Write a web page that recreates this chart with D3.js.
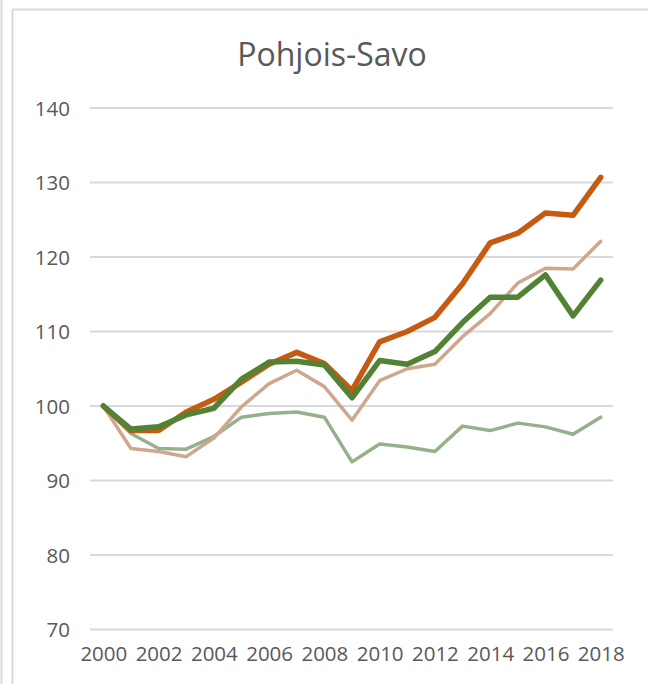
<!DOCTYPE html>
<html>
<head>
<meta charset="utf-8">
<script src="https://cdn.jsdelivr.net/npm/d3@7"></script>
<style>
  html, body { margin: 0; padding: 0; background: #ffffff; overflow: hidden; }
  svg { display: block; }
</style>
</head>
<body>
<svg id="chart" width="648" height="684"></svg>
<script>
const years = ["2000","2001","2002","2003","2004","2005","2006","2007","2008","2009",
               "2010","2011","2012","2013","2014","2015","2016","2017","2018"];
const yTicks = [70, 80, 90, 100, 110, 120, 130, 140];
const title = "Pohjois-Savo";

const seriesOrange = [100, 96.7, 96.7, 99.2, 100.9, 103.2, 105.6, 107.2, 105.7, 102.1,
                      108.6, 110.0, 111.9, 116.4, 121.9, 123.2, 125.9, 125.6, 130.7];
const seriesGreen  = [100, 96.9, 97.2, 98.8, 99.7, 103.6, 105.9, 106.0, 105.5, 101.1,
                      106.1, 105.6, 107.3, 111.2, 114.6, 114.6, 117.6, 112.1, 116.9];
const seriesTan    = [100, 94.3, 93.9, 93.2, 95.7, 99.9, 103.0, 104.8, 102.6, 98.1,
                      103.4, 105.0, 105.6, 109.3, 112.4, 116.5, 118.5, 118.4, 122.1];
const seriesSage   = [100, 96.3, 94.3, 94.2, 95.9, 98.5, 99.0, 99.2, 98.5, 92.5,
                      94.9, 94.5, 93.9, 97.3, 96.7, 97.7, 97.2, 96.2, 98.5];

const svg = d3.select("#chart");
const grey = "#595959";

// frame borders
svg.append("line").attr("x1", 1.5).attr("x2", 1.5).attr("y1", 0).attr("y2", 684)
  .attr("stroke", "#d9d9d9").attr("stroke-width", 2);
svg.append("line").attr("x1", 12.5).attr("x2", 12.5).attr("y1", 9.5).attr("y2", 684)
  .attr("stroke", "#d9d9d9").attr("stroke-width", 2);
svg.append("line").attr("x1", 12.5).attr("x2", 648).attr("y1", 9.5).attr("y2", 9.5)
  .attr("stroke", "#d9d9d9").attr("stroke-width", 2);

const x = d3.scalePoint().domain(years).range([89.5, 614.5]).padding(0.5);
const y = d3.scaleLinear().domain([70, 140]).range([629.5, 108]);

// gridlines
svg.append("g").selectAll("line").data(yTicks).join("line")
  .attr("x1", 90).attr("x2", 613)
  .attr("y1", d => y(d)).attr("y2", d => y(d))
  .attr("stroke", "#d9d9d9").attr("stroke-width", 2);

// y axis labels
const yAxis = d3.axisLeft(y).tickValues(yTicks).tickSize(0).tickPadding(0);
const gy = svg.append("g").attr("transform", "translate(70,0)").call(yAxis);
gy.select(".domain").remove();
gy.selectAll("text").attr("font-family", "Open Sans").attr("font-size", 20.5)
  .attr("fill", grey).attr("dy", "0.35em");

// x axis labels
const xAxis = d3.axisBottom(x).tickValues(years.filter((d, i) => i % 2 === 0))
  .tickSize(0).tickPadding(0);
const gx = svg.append("g").attr("transform", "translate(0,646)").call(xAxis);
gx.select(".domain").remove();
gx.selectAll("text").attr("font-family", "Open Sans").attr("font-size", 20.5)
  .attr("fill", grey).attr("dy", "0.71em");

// title
svg.append("text").attr("x", 332).attr("y", 66).attr("text-anchor", "middle")
  .attr("font-family", "Open Sans").attr("font-size", 32).attr("fill", grey).text(title);

const line = d3.line().x((d, i) => x(years[i])).y(d => y(d));
const series = [
  { values: seriesSage, color: "#97b08c", width: 3.5 },
  { values: seriesTan, color: "#cfa78d", width: 3.5 },
  { values: seriesOrange, color: "#c55a11", width: 5.5 },
  { values: seriesGreen, color: "#548235", width: 5.5 }
];
svg.append("g").selectAll("path").data(series).join("path")
  .attr("d", d => line(d.values))
  .attr("fill", "none")
  .attr("stroke", d => d.color)
  .attr("stroke-width", d => d.width)
  .attr("stroke-linejoin", "round")
  .attr("stroke-linecap", "round");
</script>
</body>
</html>
